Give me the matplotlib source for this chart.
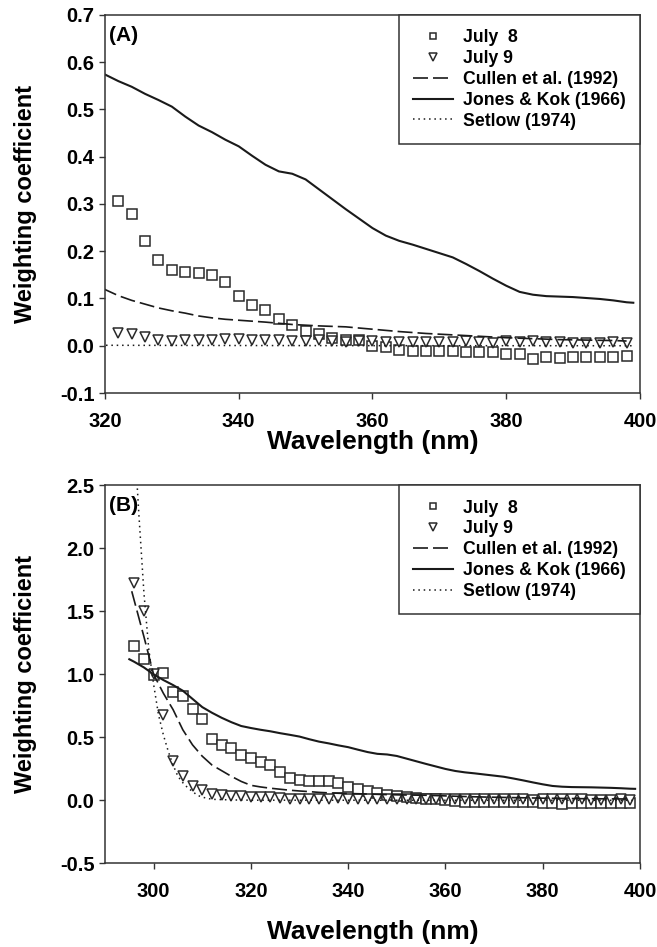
import numpy as np
import matplotlib
matplotlib.use("Agg")
import matplotlib.pyplot as plt

plt.rcParams['font.family'] = ['Liberation Sans', 'DejaVu Sans']
plt.rcParams['font.weight'] = 'bold'
plt.rcParams['axes.unicode_minus'] = False

# measured weighting coefficients, 2 nm steps
wl_obs = list(range(296, 400, 2))
july8 = [1.228, 1.125, 0.998, 1.011, 0.857, 0.831, 0.725, 0.648, 0.487, 0.437,
         0.416, 0.360, 0.333, 0.307, 0.278, 0.222, 0.181, 0.161, 0.156, 0.155,
         0.150, 0.135, 0.105, 0.086, 0.076, 0.057, 0.043, 0.032, 0.024, 0.016,
         0.012, 0.012, -0.001, -0.002, -0.010, -0.011, -0.011, -0.011, -0.012, -0.013,
         -0.013, -0.013, -0.018, -0.018, -0.028, -0.024, -0.025, -0.023, -0.023, -0.024,
         -0.024, -0.022]
july9 = [1.725, 1.500, 1.000, 0.680, 0.310, 0.190, 0.112, 0.080, 0.052, 0.042,
         0.035, 0.031, 0.028, 0.027, 0.024, 0.018, 0.012, 0.011, 0.012, 0.012,
         0.013, 0.015, 0.014, 0.012, 0.013, 0.012, 0.011, 0.009, 0.012, 0.010,
         0.008, 0.010, 0.010, 0.008, 0.008, 0.008, 0.008, 0.007, 0.008, 0.010,
         0.008, 0.006, 0.009, 0.008, 0.010, 0.007, 0.007, 0.006, 0.006, 0.006,
         0.007, 0.005]

# published spectra
wl_cullen = [295.5, 298, 300, 302, 304, 306, 308, 310, 312, 314, 316, 318, 320,
             322, 324, 326, 328, 330, 332, 334, 336, 338, 340, 344, 348, 352, 356,
             360, 364, 368, 372, 376, 380, 384, 388, 392, 396, 398]
cullen = [1.66, 1.30, 1.00, 0.85, 0.72, 0.56, 0.44, 0.35, 0.28, 0.235, 0.19, 0.15, 0.119,
          0.106, 0.096, 0.088, 0.080, 0.074, 0.069, 0.063, 0.059, 0.056, 0.054, 0.050,
          0.045, 0.042, 0.040, 0.035, 0.030, 0.026, 0.023, 0.020, 0.017, 0.015, 0.013,
          0.012, 0.011, 0.010]

wl_jones = [295, 296] + list(range(298, 400, 2)) + [399]
jones = [1.12, 1.10,
         1.055, 1.00, 0.955, 0.915, 0.87, 0.805, 0.74, 0.695, 0.655, 0.62, 0.59, 0.574,
         0.560, 0.548, 0.533, 0.520, 0.506, 0.485, 0.466, 0.452, 0.436, 0.422,
         0.402, 0.383, 0.369, 0.364, 0.352, 0.331, 0.310, 0.289, 0.269, 0.249,
         0.233, 0.222, 0.214, 0.205, 0.196, 0.187, 0.173, 0.158, 0.142, 0.127,
         0.114, 0.108, 0.105, 0.104, 0.103, 0.101, 0.099, 0.096, 0.092,
         0.091]

wl_setlow = [296, 297, 298, 299, 300, 301, 302, 303, 304, 305, 306, 307, 308, 309,
             310, 312, 316, 320, 340, 360, 380, 399]
setlow = [2.9, 2.25, 1.65, 1.2, 0.92, 0.68, 0.52, 0.39, 0.28, 0.19, 0.14, 0.10, 0.07,
          0.04, 0.025, 0.008, 0.003, 0.001, 0.0005, 0.0002, 0.0001, 0.0]

wl_obs = np.array(wl_obs)
july8 = np.array(july8)
july9 = np.array(july9)


def draw_panel(ax, xmin, tag, xticks, ylim, yticks, xlabel_y):
    keep = wl_obs > xmin
    ax.plot(wl_obs[keep], july8[keep], ls='none', marker='s', ms=7, mfc='white',
            mec='#2a2a2a', mew=1.1, label='July  8')
    ax.plot(wl_obs[keep], july9[keep], ls='none', marker='v', ms=7.5, mfc='white',
            mec='#2a2a2a', mew=1.1, label='July 9')
    ax.plot(wl_cullen, cullen, color='#1a1a1a', lw=1.2, dashes=(9, 3),
            label='Cullen et al. (1992)')
    ax.plot(wl_jones, jones, color='#1a1a1a', lw=1.5, label='Jones & Kok (1966)')
    ax.plot(wl_setlow, setlow, color='#1a1a1a', lw=1.1, ls=(0, (1, 2.5)),
            label='Setlow (1974)')

    ax.set_xlim(xmin, 400)
    ax.set_ylim(*ylim)
    ax.set_xticks(xticks)
    ax.set_yticks(yticks)
    ax.yaxis.set_major_formatter(matplotlib.ticker.FormatStrFormatter('%.1f'))
    ax.tick_params(direction='out', length=4.5, width=1, labelsize=14.5, color='#333333')
    ax.tick_params(axis='x', pad=9)
    ax.tick_params(axis='y', pad=3)
    for s in ax.spines.values():
        s.set_linewidth(1.1)
        s.set_color('#333333')

    ax.set_xlabel('Wavelength (nm)', fontsize=19, fontweight='bold')
    ax.set_ylabel('Weighting coefficient', fontsize=17, fontweight='bold')
    ax.xaxis.set_label_coords(0.5, xlabel_y)
    ax.yaxis.set_label_coords(-0.127, 0.5)

    ax.text(0.008, 0.972, tag, transform=ax.transAxes, ha='left', va='top',
            fontsize=15, fontweight='bold')

    leg = ax.legend(loc='upper right', bbox_to_anchor=(1, 1), borderaxespad=0,
                    fancybox=False, framealpha=1, edgecolor='#333333',
                    fontsize=12.7, handlelength=2.3, handletextpad=0.55,
                    labelspacing=0.22, borderpad=0.8, markerscale=0.7)
    leg.get_frame().set_linewidth(1.1)


fig = plt.figure(figsize=(6.57, 9.47), dpi=100)
ax1 = fig.add_axes([0.1598, 0.585, 0.8143, 0.3992])
ax2 = fig.add_axes([0.1598, 0.0884, 0.8143, 0.399])

draw_panel(ax1, 320, '(A)', [320, 340, 360, 380, 400], (-0.1, 0.7),
           np.arange(-0.1, 0.71, 0.1), -0.098)
draw_panel(ax2, 290, '(B)', [300, 320, 340, 360, 380, 400], (-0.5, 2.5),
           np.arange(-0.5, 2.51, 0.5), -0.15)

fig.savefig('out.png', dpi=100)
